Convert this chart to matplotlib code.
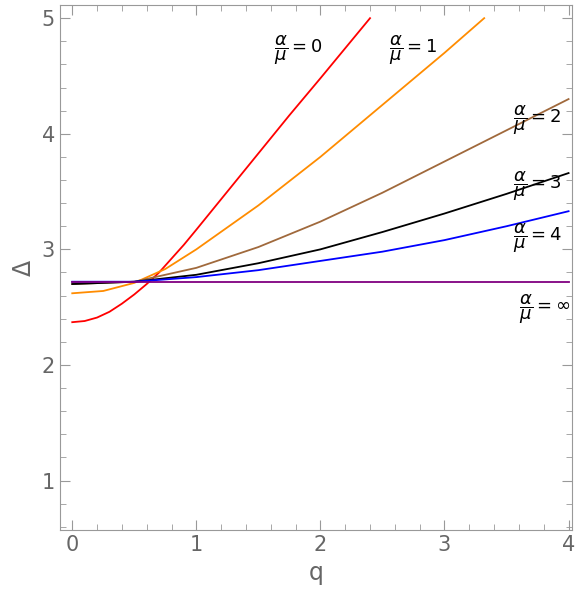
import numpy as np
import matplotlib.pyplot as plt
from matplotlib.ticker import MultipleLocator

# ── Data ─────────────────────────────────────────────────────────
q_red = [0, 0.1, 0.2, 0.3, 0.4, 0.5, 0.6, 0.7, 0.8, 0.9, 1.0, 1.25, 1.5, 1.75, 2.0, 2.2, 2.4]
d_red = [2.37, 2.38, 2.41, 2.46, 2.53, 2.61, 2.70, 2.80, 2.92, 3.04, 3.17, 3.5, 3.83, 4.16, 4.48, 4.74, 5.0]
q_orange = [0, 0.25, 0.5, 0.75, 1.0, 1.5, 2.0, 2.5, 3.0, 3.32]
d_orange = [2.62, 2.64, 2.71, 2.83, 3.0, 3.38, 3.8, 4.25, 4.7, 5.0]
q_brown = [0, 0.5, 1.0, 1.5, 2.0, 2.5, 3.0, 3.5, 4.0]
d_brown = [2.70, 2.72, 2.84, 3.02, 3.24, 3.49, 3.76, 4.03, 4.3]
q_black = [0, 0.5, 1.0, 1.5, 2.0, 2.5, 3.0, 3.5, 4.0]
d_black = [2.70, 2.72, 2.78, 2.88, 3.0, 3.15, 3.31, 3.48, 3.66]
q_blue = [0, 0.5, 1.0, 1.5, 2.0, 2.5, 3.0, 3.5, 4.0]
d_blue = [2.72, 2.72, 2.76, 2.82, 2.9, 2.98, 3.08, 3.2, 3.33]
q_purple = [0, 4.0]
d_purple = [2.72, 2.72]

labels = ["0", "1", "2", "3", "4", r"\infty"]
label_pos = [(1.63, 4.72), (2.55, 4.72), (3.55, 4.12), (3.55, 3.55), (3.55, 3.1), (3.6, 2.48)]

gray = "#666666"
fig = plt.figure(figsize=(5.81, 6.06), dpi=100)
ax = fig.add_axes([0.103, 0.125, 0.882, 0.866])

ax.plot(q_red, d_red, color="#ff0000", lw=1.3)
ax.plot(q_orange, d_orange, color="#ff8c00", lw=1.3)
ax.plot(q_brown, d_brown, color="#a0693c", lw=1.3)
ax.plot(q_black, d_black, color="black", lw=1.3)
ax.plot(q_blue, d_blue, color="#0000ff", lw=1.3)
ax.plot(q_purple, d_purple, color="#800080", lw=1.3)

for lab, (x, y) in zip(labels, label_pos):
    ax.text(x, y, r"$\dfrac{\alpha}{\mu}=" + lab + "$", fontsize=13, ha="left", va="center")

ax.set_xlim(-0.1, 4.03)
ax.set_ylim(0.57, 5.11)
ax.xaxis.set_major_locator(MultipleLocator(1))
ax.xaxis.set_minor_locator(MultipleLocator(0.2))
ax.yaxis.set_major_locator(MultipleLocator(1))
ax.yaxis.set_minor_locator(MultipleLocator(0.2))
ax.tick_params(which="both", direction="in", top=True, right=True, colors="#999999",
               labelcolor=gray, labelsize=15)
ax.tick_params(which="major", length=7)
ax.tick_params(which="minor", length=4)
for s in ax.spines.values():
    s.set_color("#999999")
ax.set_xlabel("q", fontsize=17, color=gray)
ax.set_ylabel("Δ", fontsize=17, color=gray)

plt.savefig("out.png", dpi=100)
